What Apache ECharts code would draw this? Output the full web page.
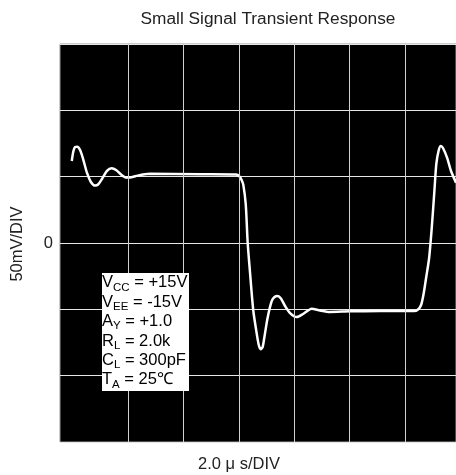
<!DOCTYPE html>
<html>
<head>
<meta charset="utf-8">
<script src="https://cdn.jsdelivr.net/npm/echarts@6/dist/echarts.min.js"></script>
<style>html,body{margin:0;padding:0;background:#fff}#c{width:456px;height:475px}</style>
</head>
<body>
<div id="c"></div>
<script>
// time in µs (2.0 µs/DIV), voltage in mV (50 mV/DIV)
var timeUs = [-2.03,-1.97,-1.91,-1.83,-1.73,-1.62,-1.48,-1.34,-1.19,-1.08,-0.94,-0.76,-0.59,-0.43,-0.25,-0.07,0.07,0.29,0.54,0.79,2.6,3.90,4.03,4.10,4.16,4.25,4.32,4.40,4.52,4.65,4.72,4.79,4.86,4.92,5.04,5.19,5.29,5.40,5.52,5.67,5.85,6.09,6.32,6.63,6.93,7.29,8.01,9.1,10.32,10.47,10.58,10.67,10.76,10.87,10.97,11.06,11.13,11.21,11.29,11.37,11.52,11.66,11.84];
var voltMv = [61.8,69.3,72.4,72.6,70.1,63.3,52.8,46.0,43.3,44.1,48.2,54.3,56.3,55.0,51.6,49.4,49.4,50.5,51.6,52.2,51.8,51.6,50.1,47.5,44.2,29.2,0.2,-21.1,-50.5,-68.8,-76.9,-80.1,-78.4,-71.4,-56.3,-43.7,-40.7,-40.0,-41.8,-47.5,-52.8,-55.8,-53.5,-49.5,-50.9,-52,-51.5,-51.3,-51.3,-50.1,-46.7,-38.4,-26.4,-11.3,12.8,39.2,59.6,69.4,73.1,71.6,64.1,54.3,45.5];
var xGridLines = [0,2,4,6,8,10];
var xMin = -2.455, xMax = 11.84;
var titleText = 'Small Signal Transient Response';
var yName = '50mV/DIV';
var xName = '2.0 \u03bc s/DIV';
var condLines = [
  ['V','CC',' = +15V'],
  ['V','EE',' = -15V'],
  ['A','Y',' = +1.0'],
  ['R','L',' = 2.0k'],
  ['C','L',' = 300pF'],
  ['T','A',' = 25\u2103']
];

var pts = timeUs.map(function(t,i){return [t, voltMv[i]];});
var condText = condLines.map(function(l){return '{m|'+l[0]+'}{s|'+l[1]+'}{m|'+l[2]+'}';}).join('\n');
var FONT = '"Liberation Sans", Arial, sans-serif';

var chart = echarts.init(document.getElementById('c'), null, {renderer:'canvas'});
chart.setOption({
  animation:false,
  backgroundColor:'#fff',
  title:{text:titleText,left:263,top:6,textAlign:'center',
    textStyle:{fontFamily:FONT,fontSize:17.3,fontWeight:'normal',color:'#222'}},
  grid:{left:60,right:0,top:44,bottom:33,show:true,backgroundColor:'#000',borderColor:'#999',borderWidth:1},
  xAxis:{type:'value',min:xMin,max:xMax,axisLine:{show:false},axisTick:{show:false},axisLabel:{show:false},splitLine:{show:false}},
  yAxis:{type:'value',min:-150,max:150,interval:50,
    axisLine:{show:false},axisTick:{show:false},
    axisLabel:{margin:7,fontFamily:FONT,fontSize:16.5,color:'#222',
      formatter:function(v){return v===0?'0':'';}},
    splitLine:{show:true,lineStyle:{color:'#e6e6e6',width:1}}},
  series:[{
    type:'line',data:pts,showSymbol:false,smooth:0.25,
    lineStyle:{color:'#fff',width:2.5},
    markLine:{silent:true,symbol:'none',label:{show:false},
      lineStyle:{color:'#d0d0d0',width:1,type:'solid'},
      data:xGridLines.map(function(x){return {xAxis:x};})}
  }],
  graphic:[
    {type:'text',x:17,y:244,rotation:Math.PI/2,z:100,
      style:{text:yName,font:'16.5px '+FONT,fill:'#222',align:'center',verticalAlign:'middle'}},
    {type:'text',x:239,y:464,z:100,
      style:{text:xName,font:'16.5px '+FONT,fill:'#222',align:'center',verticalAlign:'middle'}},
    {type:'rect',z:100,shape:{x:102,y:273,width:87,height:118},style:{fill:'#fff'}},
    {type:'text',x:102,y:272,z:101,
      style:{text:condText,fill:'#000',lineHeight:19.4,
        rich:{m:{fontSize:16.5,fontFamily:'Liberation Sans, Arial',lineHeight:19.4,verticalAlign:'bottom'},
              s:{fontSize:11.5,fontFamily:'Liberation Sans, Arial',verticalAlign:'bottom',lineHeight:19.4,padding:[0,0,-2,0]}}}}
  ]
});
</script>
</body>
</html>
